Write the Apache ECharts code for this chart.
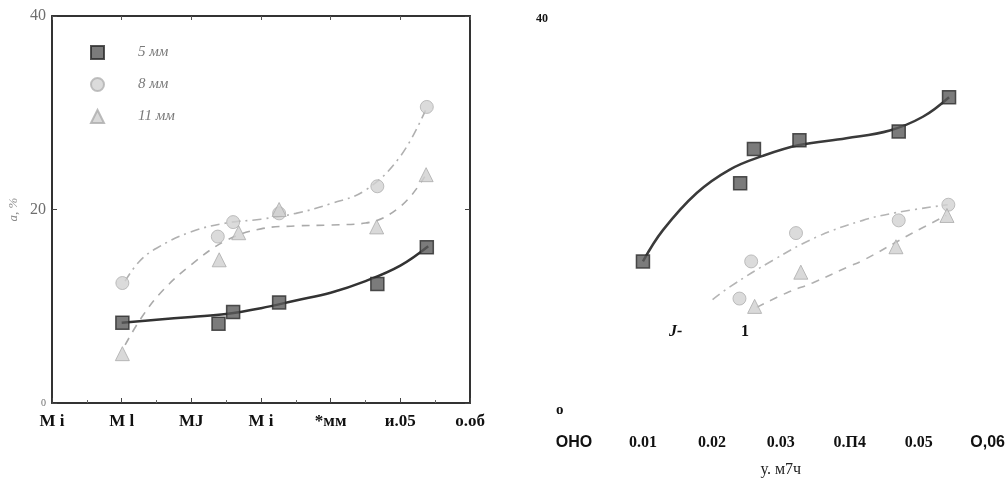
<!DOCTYPE html>
<html>
<head>
<meta charset="utf-8">
<script src="https://cdn.jsdelivr.net/npm/echarts@6/dist/echarts.min.js"></script>
<style>
html,body{margin:0;padding:0;background:#fff;}
#chart{width:1008px;height:486px;}
</style>
</head>
<body>
<div id="chart"></div>
<script>
// ---- tick labels (as printed in the reference) ----
const leftXLabels = ['M i', 'M l', 'MJ', 'M i', '*мм', 'и.05', 'о.об'];
const leftYLabels = ['0', '20', '40'];
const rightXLabels = ['ОНО', '0.01', '0.02', '0.03', '0.П4', '0.05', 'О,06'];
const rightYLabels = ['о', '40'];
const leftYName = 'a, %';
const rightXName = 'у. м7ч';
const legendNames = ['5 мм', '8 мм', '11 мм'];
const strayLabels = ['J-', '1'];

// ---- left panel: measured points ----
const left5mm = [[0.0101, 8.3], [0.0239, 8.2], [0.026, 9.4], [0.0326, 10.4], [0.0467, 12.3], [0.0538, 16.1]];
const left8mm = [[0.0101, 12.4], [0.0238, 17.2], [0.026, 18.7], [0.0326, 19.6], [0.0467, 22.4], [0.0538, 30.6]];
const left11mm = [[0.0101, 5.1], [0.024, 14.8], [0.0268, 17.6], [0.0326, 20.0], [0.0466, 18.2], [0.0537, 23.6]];
// ---- left panel: fitted curves ----
const leftFit5mm = [[0.01, 8.3], [0.015, 8.6], [0.02, 8.9], [0.025, 9.2], [0.03, 9.8], [0.035, 10.6], [0.04, 11.4], [0.045, 12.6], [0.05, 14.2], [0.054, 16.2]];
const leftFit8mm = [[0.0105, 12.6], [0.0125, 14.6], [0.015, 16.0], [0.02, 17.7], [0.025, 18.6], [0.03, 19.0], [0.035, 19.6], [0.04, 20.6], [0.045, 22.0], [0.05, 25.5], [0.0537, 30.4]];
const leftFit11mm = [[0.0105, 6.0], [0.013, 9.0], [0.016, 11.7], [0.02, 14.3], [0.025, 16.8], [0.03, 18.0], [0.035, 18.3], [0.04, 18.4], [0.045, 18.6], [0.05, 20.3], [0.0535, 23.4]];

// ---- right panel: measured points ----
const right5mm = [[0.01, 15.2], [0.0241, 23.2], [0.0261, 26.7], [0.0327, 27.6], [0.0471, 28.5], [0.0544, 32.0]];
const right8mm = [[0.024, 11.4], [0.0257, 15.2], [0.0322, 18.1], [0.0471, 19.4], [0.0543, 21.0]];
const right11mm = [[0.0262, 10.6], [0.0329, 14.1], [0.0467, 16.7], [0.0541, 19.9]];
// ---- right panel: fitted curves ----
const rightFit5mm = [[0.01, 15.2], [0.0129, 18.4], [0.0178, 22.2], [0.0226, 24.6], [0.0274, 26.0], [0.0327, 27.1], [0.0395, 27.8], [0.0458, 28.6], [0.0506, 30.0], [0.0544, 32.0]];
const rightFit8mm = [[0.0201, 11.3], [0.0226, 12.6], [0.0288, 15.3], [0.0352, 17.7], [0.0419, 19.4], [0.0468, 20.2], [0.0542, 21.0]];
const rightFit11mm = [[0.0265, 10.5], [0.0309, 12.0], [0.0346, 13.0], [0.0396, 14.6], [0.0419, 15.3], [0.0491, 18.1], [0.054, 19.9]];

const serif = "'Liberation Serif', 'DejaVu Serif', serif";
const sans = "'Liberation Sans', Arial, sans-serif";

const squareStyle = { color: '#5a5a5a', borderColor: '#2a2a2a', borderWidth: 1.5 };
const circleStyle = { color: '#d2d2d2', borderColor: '#b0b0b0', borderWidth: 1 };
const triStyle = { color: '#d0d0d0', borderColor: '#ababab', borderWidth: 1 };

function idx(v) { return Math.round(v / 0.01); }

const chart = echarts.init(document.getElementById('chart'), null, { renderer: 'canvas' });

const option = {
  backgroundColor: '#ffffff',
  animation: false,
  grid: [
    { left: 52, right: 538, top: 16, bottom: 83 },
    { left: 574, right: 20, top: 19, bottom: 76 }
  ],
  legend: {
    data: legendNames,
    orient: 'vertical',
    left: 85,
    top: 40,
    itemWidth: 13,
    itemHeight: 13,
    itemGap: 17,
    formatter: function (name) { return '{a|' + name + '}'; },
    textStyle: {
      fontFamily: serif, fontStyle: 'italic', fontSize: 15, color: '#7a7a7a',
      rich: { a: { fontFamily: serif, fontStyle: 'italic', fontSize: 15, color: '#7a7a7a', padding: [0, 0, 0, 29] } }
    }
  },
  xAxis: [
    {
      type: 'value', gridIndex: 0, min: 0, max: 0.06, interval: 0.01,
      axisLine: { show: true, onZero: false, lineStyle: { color: '#333', width: 2 } },
      axisTick: { show: true, inside: true, length: 5, lineStyle: { color: '#444' } },
      minorTick: { show: true, splitNumber: 2, length: 3, lineStyle: { color: '#666' } },
      splitLine: { show: false },
      axisLabel: {
        margin: 10,
        formatter: function (v) { return leftXLabels[idx(v)]; },
        fontFamily: serif, fontWeight: 'bold', fontSize: 17, color: '#111'
      }
    },
    {
      type: 'value', gridIndex: 0, position: 'top', min: 0, max: 0.06, interval: 0.01,
      axisLine: { show: true, onZero: false, lineStyle: { color: '#333', width: 2 } },
      axisTick: { show: true, inside: true, length: 4, lineStyle: { color: '#555' } },
      splitLine: { show: false },
      axisLabel: { show: false }
    },
    {
      type: 'value', gridIndex: 1, min: 0, max: 0.06, interval: 0.01,
      axisLine: { show: false },
      axisTick: { show: false },
      splitLine: { show: false },
      axisLabel: {
        margin: 25,
        formatter: function (v) {
          const i = idx(v);
          const t = rightXLabels[i];
          return (i === 0 || i === 6) ? '{s|' + t + '}' : '{t|' + t + '}';
        },
        rich: {
          s: { fontFamily: sans, fontWeight: 'bold', fontSize: 16, color: '#111' },
          t: { fontFamily: serif, fontWeight: 'bold', fontSize: 16, color: '#111' }
        }
      },
      name: rightXName,
      nameLocation: 'middle',
      nameGap: 52,
      nameTextStyle: { fontFamily: serif, fontSize: 16, color: '#222' }
    }
  ],
  yAxis: [
    {
      type: 'value', gridIndex: 0, min: 0, max: 40, interval: 20,
      axisLine: { show: true, onZero: false, lineStyle: { color: '#333', width: 2 } },
      axisTick: { show: true, inside: true, length: 5, lineStyle: { color: '#444' } },
      splitLine: { show: false },
      axisLabel: {
        margin: 6,
        formatter: function (v) {
          const i = Math.round(v / 20);
          return i === 0 ? '{z|' + leftYLabels[i] + '}' : '{n|' + leftYLabels[i] + '}';
        },
        rich: {
          n: { fontFamily: serif, fontSize: 16, color: '#6e6e6e' },
          z: { fontFamily: serif, fontSize: 10, color: '#6e6e6e' }
        }
      },
      name: leftYName,
      nameLocation: 'middle',
      nameGap: 32,
      nameRotate: 90,
      nameTextStyle: { fontFamily: serif, fontStyle: 'italic', fontSize: 13, color: '#8a8a8a' }
    },
    {
      type: 'value', gridIndex: 0, position: 'right', min: 0, max: 40, interval: 20,
      axisLine: { show: true, onZero: false, lineStyle: { color: '#333', width: 2 } },
      axisTick: { show: true, inside: true, length: 5, lineStyle: { color: '#444' } },
      splitLine: { show: false },
      axisLabel: { show: false }
    },
    {
      type: 'value', gridIndex: 1, min: 0, max: 40, interval: 40,
      axisLine: { show: false },
      axisTick: { show: false },
      splitLine: { show: false },
      axisLabel: {
        align: 'left',
        margin: 38,
        formatter: function (v) {
          const i = Math.round(v / 40);
          return i === 0 ? '{z|' + rightYLabels[i] + '}' : '{f|' + rightYLabels[i] + '}';
        },
        rich: {
          f: { fontFamily: serif, fontWeight: 'bold', fontSize: 12, color: '#111' },
          z: { fontFamily: serif, fontWeight: 'bold', fontSize: 15, color: '#111', padding: [0, 0, 0, 20] }
        }
      }
    }
  ],
  graphic: [
    { type: 'text', left: 669, top: 324, style: { text: strayLabels[0], font: "italic bold 16px 'Liberation Serif'", fill: '#111' } },
    { type: 'text', left: 741, top: 324, style: { text: strayLabels[1], font: "bold 16px 'Liberation Serif'", fill: '#111' } }
  ],
  series: [
    // left panel curves
    { name: 'fitL5', type: 'line', xAxisIndex: 0, yAxisIndex: 0, data: leftFit5mm, smooth: 0.4, symbol: 'none',
      lineStyle: { color: '#333', width: 2.5 }, z: 3 },
    { name: 'fitL8', type: 'line', xAxisIndex: 0, yAxisIndex: 0, data: leftFit8mm, smooth: 0.4, symbol: 'none',
      lineStyle: { color: '#b0b0b0', width: 1.6, type: [9, 5, 2, 5] }, z: 2 },
    { name: 'fitL11', type: 'line', xAxisIndex: 0, yAxisIndex: 0, data: leftFit11mm, smooth: 0.4, symbol: 'none',
      lineStyle: { color: '#aaaaaa', width: 1.6, type: [8, 7] }, z: 2 },
    // left panel points
    { name: legendNames[1], type: 'scatter', xAxisIndex: 0, yAxisIndex: 0, data: left8mm, symbol: 'circle', symbolSize: 13,
      itemStyle: circleStyle, z: 4 },
    { name: legendNames[2], type: 'scatter', xAxisIndex: 0, yAxisIndex: 0, data: left11mm, symbol: 'triangle', symbolSize: 14,
      itemStyle: triStyle, z: 4 },
    { name: legendNames[0], type: 'scatter', xAxisIndex: 0, yAxisIndex: 0, data: left5mm, symbol: 'rect', symbolSize: 13,
      itemStyle: squareStyle, z: 5 },
    // right panel curves
    { name: 'fitR5', type: 'line', xAxisIndex: 2, yAxisIndex: 2, data: rightFit5mm, smooth: 0.4, symbol: 'none',
      lineStyle: { color: '#3a3a3a', width: 2.5 }, z: 3 },
    { name: 'fitR8', type: 'line', xAxisIndex: 2, yAxisIndex: 2, data: rightFit8mm, smooth: 0.4, symbol: 'none',
      lineStyle: { color: '#b5b5b5', width: 1.6, type: [9, 5, 2, 5] }, z: 2 },
    { name: 'fitR11', type: 'line', xAxisIndex: 2, yAxisIndex: 2, data: rightFit11mm, smooth: 0.4, symbol: 'none',
      lineStyle: { color: '#b0b0b0', width: 1.6, type: [8, 7] }, z: 2 },
    // right panel points
    { name: 'R8', type: 'scatter', xAxisIndex: 2, yAxisIndex: 2, data: right8mm, symbol: 'circle', symbolSize: 13,
      itemStyle: circleStyle, z: 4 },
    { name: 'R11', type: 'scatter', xAxisIndex: 2, yAxisIndex: 2, data: right11mm, symbol: 'triangle', symbolSize: 14,
      itemStyle: triStyle, z: 4 },
    { name: 'R5', type: 'scatter', xAxisIndex: 2, yAxisIndex: 2, data: right5mm, symbol: 'rect', symbolSize: 13,
      itemStyle: squareStyle, z: 5 }
  ]
};

chart.setOption(option);
</script>
</body>
</html>
